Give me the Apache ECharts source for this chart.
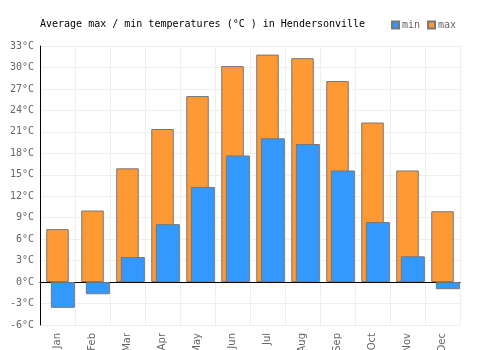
<!DOCTYPE html>
<html>
<head>
<meta charset="utf-8">
<script src="https://cdn.jsdelivr.net/npm/echarts@6/dist/echarts.min.js"></script>
<style>html,body{margin:0;padding:0;background:#fff;}#c{width:500px;height:350px;}</style>
</head>
<body>
<div id="c"></div>
<script>
var months = ['Jan','Feb','Mar','Apr','May','Jun','Jul','Aug','Sep','Oct','Nov','Dec'];
var maxTemps = [7.4, 10.0, 15.9, 21.4, 26.0, 30.2, 31.8, 31.3, 28.1, 22.3, 15.6, 9.9];
var minTemps = [-3.6, -1.7, 3.5, 8.1, 13.3, 17.7, 20.1, 19.3, 15.6, 8.4, 3.6, -1.0];
var titleText = 'Average max / min temperatures (°C ) in Hendersonville';

var chart = echarts.init(document.getElementById('c'), null, {renderer: 'canvas'});
var mono = 'DejaVu Sans Mono';
chart.setOption({
  animation: false,
  backgroundColor: '#fff',
  title: {
    text: titleText, left: 35, top: 14,
    textStyle: {fontFamily: mono, fontSize: 10, fontWeight: 'normal', color: '#000'}
  },
  legend: {
    data: ['min', 'max'], left: 386, top: 15, icon: 'rect',
    itemWidth: 7, itemHeight: 7, itemGap: 7,
    textStyle: {fontFamily: mono, fontSize: 10, color: '#666', padding: [0, 0, 0, -2]}
  },
  grid: [
    {left: 40, right: 40, top: 46, bottom: 25, containLabel: false, outerBoundsMode: 'none'},
    {left: 45.35, right: 34.65, top: 46, bottom: 25, containLabel: false, outerBoundsMode: 'none'}
  ],
  xAxis: [
    {
      type: 'category', data: months, gridIndex: 0,
      axisLine: {onZero: true, lineStyle: {color: '#000', width: 1}},
      axisTick: {show: false},
      axisLabel: {rotate: 90, fontSize: 10, color: '#666', fontFamily: 'DejaVu Sans', margin: 8},
      splitLine: {show: true, lineStyle: {color: '#eee', width: 1}}
    },
    {
      type: 'category', data: months, gridIndex: 1, show: false
    }
  ],
  yAxis: [
    {
      type: 'value', min: -6, max: 33, interval: 3, gridIndex: 0,
      axisLine: {show: true, lineStyle: {color: '#000', width: 1}},
      axisTick: {show: false},
      axisLabel: {formatter: '{value}°C', fontFamily: mono, fontSize: 10, color: '#666', margin: 6},
      splitLine: {show: true, lineStyle: {color: '#eee', width: 1}}
    },
    {
      type: 'value', min: -6, max: 33, interval: 3, gridIndex: 1, show: false
    }
  ],
  series: [
    {
      name: 'max', type: 'bar', data: maxTemps, xAxisIndex: 0, yAxisIndex: 0,
      barWidth: 22.5,
      itemStyle: {color: '#ff9933', borderColor: '#777', borderWidth: 1}
    },
    {
      name: 'min', type: 'bar', data: minTemps, xAxisIndex: 1, yAxisIndex: 1,
      barWidth: 24,
      itemStyle: {color: '#3399ff', borderColor: '#777', borderWidth: 1}
    }
  ]
});
</script>
</body>
</html>
